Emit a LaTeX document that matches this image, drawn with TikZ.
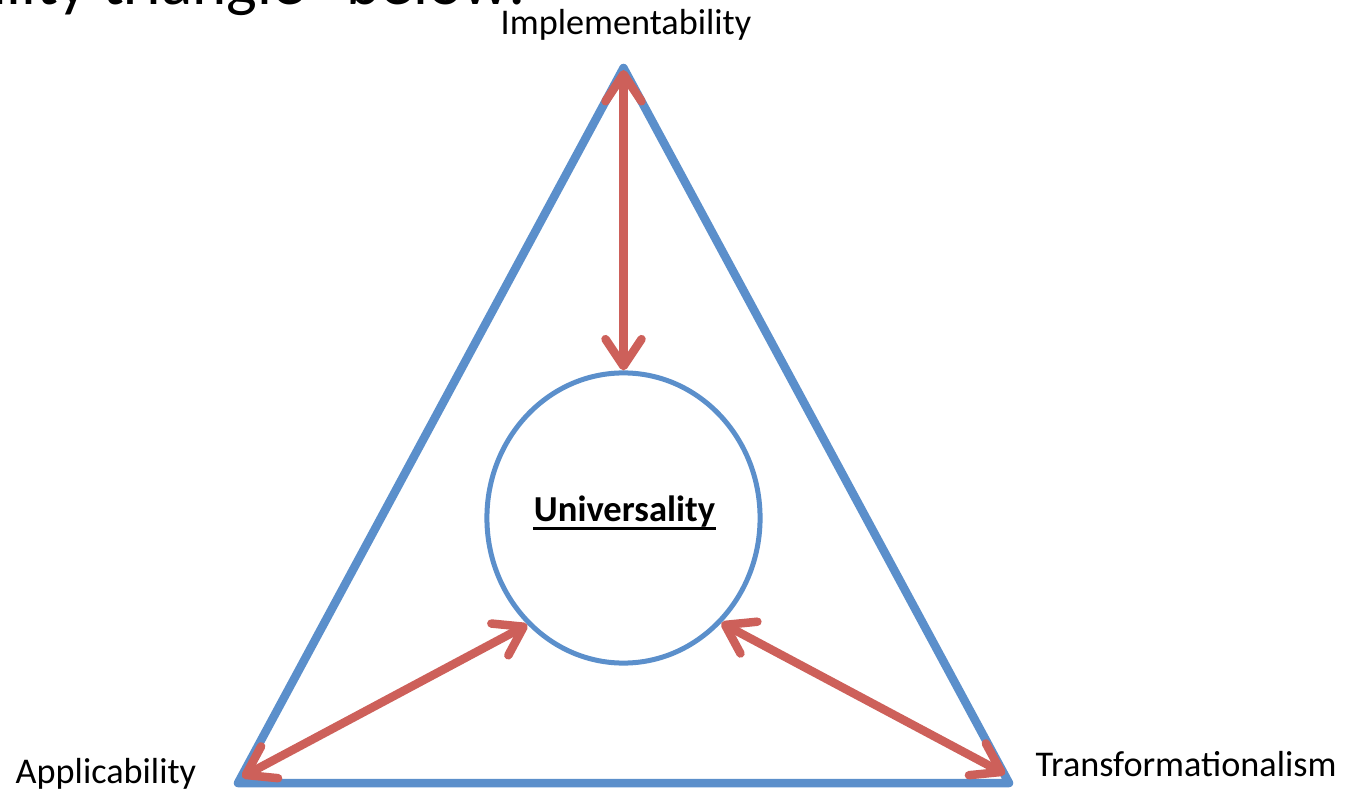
\documentclass[tikz,border=0pt]{standalone}
\usepackage{fontspec}
\setmainfont{Carlito}
\usetikzlibrary{arrows.meta,shapes.geometric}
\definecolor{triblue}{HTML}{5B8FCB}
\definecolor{arrred}{HTML}{CD605A}
\begin{document}
\begin{tikzpicture}[x=0.01cm,y=-0.01cm,
  tri/.style={draw=triblue,line width=0.085cm,line join=round,line cap=round},
  ring/.style={ellipse,draw=triblue,line width=0.05cm,minimum width=2.73cm,minimum height=2.90cm,inner sep=0pt},
  link/.style={draw=arrred,line width=0.085cm,line cap=round,
    >={Straight Barb[length=0.27cm,width=0.36cm,line join=round,line cap=round]},<->},
  lab/.style={inner sep=0pt,font=\fontsize{10.3pt}{12pt}\selectfont},
  headline/.style={inner sep=0pt,font=\fontsize{18.5pt}{22pt}\selectfont}]
\useasboundingbox (0,0) rectangle (1351,791);
\begin{scope}
\clip (0,0) rectangle (1351,791);
\node[headline,anchor=base east] (title) at (527,5) {ality triangle” below:};
\end{scope}
% triangle corners
\coordinate (apex) at (623.5,68);
\coordinate (bl) at (238,783);
\coordinate (br) at (1009,783);
\draw[tri] (apex) -- (bl) -- (br) -- cycle;
% circle
\node[ring] (ring) at (623.5,518) {};
\node[lab,font=\bfseries\fontsize{10.4pt}{12pt}\selectfont,anchor=base] (univ) at (624.5,521) {Universality};
\draw[line width=0.035cm] ([yshift=-0.075cm]univ.base west) -- ([yshift=-0.075cm]univ.base east);
% arrow tips near corners
\coordinate (tipTop) at (623.5,70);
\coordinate (tipLeft) at (242,777);
\coordinate (tipRight) at (1005,774);
\draw[link] (tipTop) -- (ring.north);
\draw[link] (tipLeft) -- (ring.228);
\draw[link] (tipRight) -- (ring.-47);
% labels
\node[lab,anchor=base] (impl) at (626,35) {Implementability};
\node[lab,anchor=base west] (appl) at (15,783) {Applicability};
\node[lab,anchor=base west] (trans) at (1035,776) {Transformationalism};
\end{tikzpicture}
\end{document}
